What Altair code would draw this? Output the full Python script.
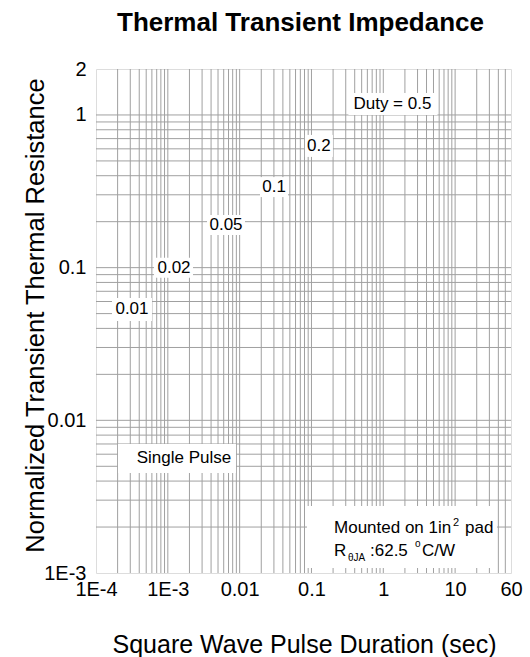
import altair as alt
import pandas as pd

FONT = "Liberation Sans"

# Axis ranges (log-log)
x_domain = [1e-4, 60]
y_domain = [1e-3, 2]

# Labelled ticks
x_tick_values = [1e-4, 1e-3, 0.01, 0.1, 1, 10, 60]
x_tick_labels = ["1E-4", "1E-3", "0.01", "0.1", "1", "10", "60"]
y_tick_values = [1e-3, 0.01, 0.1, 1, 2]
y_tick_labels = ["1E-3", "0.01", "0.1", "1", "2"]

# Log-paper grid: 1..9 in every decade, inside the frame
x_grid = [m * 10.0 ** e for e in range(-4, 2) for m in range(1, 10)]
x_grid = [v for v in x_grid if x_domain[0] * 1.001 < v < x_domain[1] * 0.999]
y_grid = [m * 10.0 ** e for e in range(-3, 1) for m in range(1, 10)] + [2.0]
y_grid = [v for v in y_grid if y_domain[0] * 1.001 < v < y_domain[1] * 0.999]

# Duty-cycle labels and their positions
curve_labels = ["Duty = 0.5", "0.2", "0.1", "0.05", "0.02", "0.01", "Single Pulse"]
label_x = [1.34, 0.127, 0.0301, 0.00646, 0.00122, 3.17e-4, 1.68e-3]
label_y = [1.18, 0.627, 0.337, 0.190, 0.100, 0.0536, 5.66e-3]

# Mounting note (left edge of the text, two lines)
note_x = 0.206
note_y = [1.97e-3, 1.39e-3]

# White backing boxes around labels: (left, right, top, bottom) in px from the anchor
label_box = [(44, 45, 11, 11), (14, 14, 11, 11), (14, 14, 10, 10), (19, 19, 10, 10),
             (20, 19, 10, 10), (20, 20, 11, 12), (66, 52, 14, 15)]
note_box = (27, 163, 22, 40)

GRID = "#a0a0a0"
FRAME = "#333333"


def label_expr(values, labels):
    parts = [f"abs(log(datum.value) - log({v})) < 0.01 ? '{t}'" for v, t in zip(values, labels)]
    return " : ".join(parts) + " : ''"


def box_path(ext):
    l, r, t, b = (v / 50 for v in ext)
    return f"M{-l},{-t}L{r},{-t}L{r},{b}L{-l},{b}Z"


x_scale = alt.Scale(type="log", domain=x_domain, nice=False)
y_scale = alt.Scale(type="log", domain=y_domain, nice=False)

x_axis = alt.Axis(
    values=x_tick_values, labelExpr=label_expr(x_tick_values, x_tick_labels),
    title="Square Wave Pulse Duration (sec)", titleFont=FONT, titleFontSize=25,
    titleFontWeight="normal", titleColor="black", titleX=208, titleY=79,
    titleBaseline="alphabetic", labelFont=FONT, labelFontSize=20, labelColor="black",
    labelPadding=6, labelFlush=False, labelOverlap=False, grid=False, ticks=False, domain=False,
)
y_axis = alt.Axis(
    values=y_tick_values, labelExpr=label_expr(y_tick_values, y_tick_labels),
    title="Normalized Transient Thermal Resistance", titleFont=FONT, titleFontSize=25.5,
    titleFontWeight="normal", titleColor="black", titleX=-48, titleY=246,
    labelFont=FONT, labelFontSize=20, labelColor="black", labelPadding=10,
    labelFlush=False, labelOverlap=False, grid=False, ticks=False, domain=False,
)


def X(field):
    return alt.X(field, type="quantitative", scale=x_scale, axis=x_axis)


def Y(field):
    return alt.Y(field, type="quantitative", scale=y_scale, axis=y_axis)


vgrid = alt.Chart(pd.DataFrame({"x": x_grid})).mark_rule(
    color=GRID, strokeWidth=1).encode(x=X("x"))
hgrid = alt.Chart(pd.DataFrame({"y": y_grid})).mark_rule(
    color=GRID, strokeWidth=1).encode(y=Y("y"))

boxes_df = pd.DataFrame({
    "x": label_x + [note_x],
    "y": label_y + [note_y[0]],
    "path": [box_path(e) for e in label_box] + [box_path(note_box)],
})
boxes = alt.Chart(boxes_df).mark_point(
    filled=True, color="white", opacity=1, size=10000, strokeWidth=0
).encode(x=X("x"), y=Y("y"), shape=alt.Shape("path:N", scale=None))

labels = alt.Chart(pd.DataFrame({"x": label_x, "y": label_y, "t": curve_labels})).mark_text(
    font=FONT, fontSize=17, color="black", align="center", baseline="middle"
).encode(x=X("x"), y=Y("y"), text="t:N")


def note(text, line, dx=0, dy=0, size=17):
    df = pd.DataFrame({"x": [note_x], "y": [note_y[line]], "t": [text]})
    return alt.Chart(df).mark_text(
        font=FONT, fontSize=size, color="black", align="left", baseline="middle", dx=dx, dy=dy
    ).encode(x=X("x"), y=Y("y"), text="t:N")


notes = [
    note("Mounted on 1in", 0),
    note("2", 0, dx=119, dy=-5, size=11),
    note("pad", 0, dx=131),
    note("R", 1),
    note("θJA", 1, dx=14, dy=7, size=10),
    note(":62.5", 1, dx=36),
    note("o", 1, dx=81, dy=-7, size=10),
    note("C/W", 1, dx=88),
]

chart = alt.layer(vgrid, hgrid, boxes, labels, *notes).properties(
    width=415,
    height=504,
    autosize=alt.AutoSizeParams(type="none"),
    padding={"left": 96, "top": 69, "right": 19, "bottom": 84},
    title=alt.TitleParams(
        "Thermal Transient Impedance", font=FONT, fontSize=26, fontWeight="bold",
        color="black", anchor="middle", frame="group", offset=23, dx=-3,
    ),
).configure_view(stroke=FRAME, strokeWidth=1.3).configure(background="white")

chart.save("out.html", embed_options={"renderer": "svg", "actions": False})
